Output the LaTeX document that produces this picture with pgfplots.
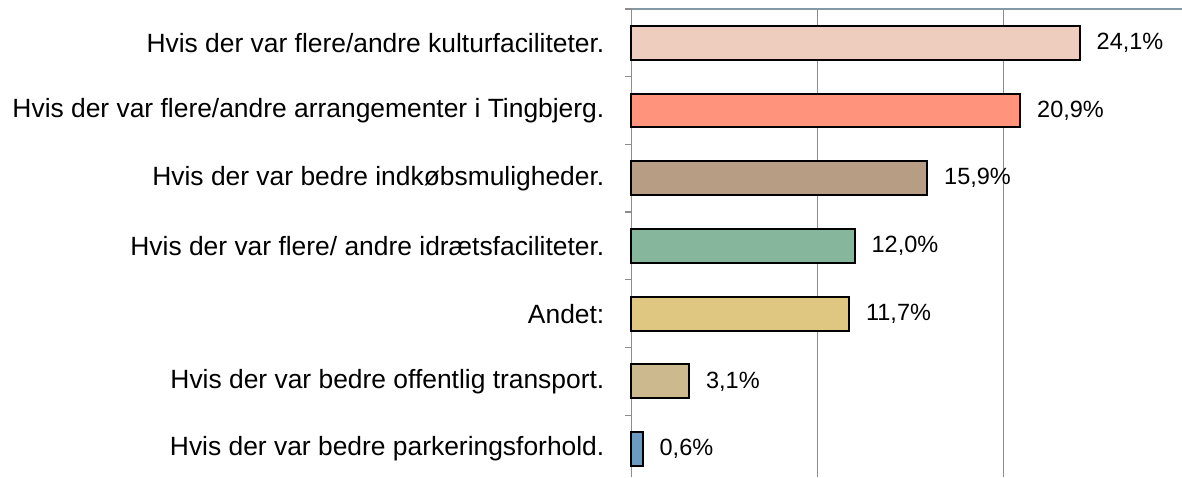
\documentclass[border=0pt]{standalone}
\usepackage{pgfplots}
\pgfplotsset{compat=1.18}
\usepackage{fontspec}
\setmainfont{Liberation Sans}
\definecolor{c1}{HTML}{EECDBF}
\definecolor{c2}{HTML}{FF937B}
\definecolor{c3}{HTML}{B89D85}
\definecolor{c4}{HTML}{86B69B}
\definecolor{c5}{HTML}{DFC781}
\definecolor{c6}{HTML}{CCB98D}
\definecolor{c7}{HTML}{6C9BC2}
\definecolor{gridc}{HTML}{8C8C8C}
\definecolor{topc}{HTML}{8598A6}
\begin{document}
\begin{tikzpicture}
\path[use as bounding box] (-631.5pt,0pt) rectangle (550.5pt,477pt);
\begin{axis}[
  at={(0pt,0pt)}, anchor=south west,
  scale only axis, width=550.5pt, height=468pt,
  xmin=0, xmax=29.6, ymin=-0.413, ymax=6.5,
  axis x line*=top, axis y line*=left,
  x axis line style={topc, line width=1.5pt, -},
  y axis line style={gridc, line width=1.5pt, -},
  xtick={10,20}, xticklabels={,}, xmajorgrids,
  major x grid style={gridc, line width=1.2pt},
  major x tick style={draw=none},
  ytick={0,1,2,3,4,5,6},
  yticklabels={Hvis der var bedre parkeringsforhold.,
    Hvis der var bedre offentlig transport.,
    Andet:,
    Hvis der var flere/ andre idrætsfaciliteter.,
    Hvis der var bedre indkøbsmuligheder.,
    Hvis der var flere/andre arrangementer i Tingbjerg.,
    Hvis der var flere/andre kulturfaciliteter.},
  major y tick style={draw=none},
  minor ytick={-0.5,0.5,1.5,2.5,3.5,4.5,5.5,6.5},
  minor y tick style={gridc, line width=1.2pt},
  minor tick length=6pt, tick align=outside,
  yticklabel style={font=\fontsize{26.4}{31}\selectfont, inner sep=0pt, xshift=-22.7pt, anchor=east},
  xbar, bar width=0.5, bar shift=0pt,
  every axis plot/.append style={draw=black, line width=2pt},
  nodes near coords={\pgfmathprintnumber[fixed,fixed zerofill,precision=1,use comma,assume math mode=true]{\pgfplotspointmeta}\%},
  every node near coord/.append style={font=\fontsize{23.5}{28}\selectfont, inner sep=0pt, anchor=west, xshift=16pt, black},
  clip=false,
]
\addplot[fill=c7] coordinates {(0.6,0)};
\addplot[fill=c6] coordinates {(3.1,1)};
\addplot[fill=c5] coordinates {(11.7,2)};
\addplot[fill=c4] coordinates {(12.0,3)};
\addplot[fill=c3] coordinates {(15.9,4)};
\addplot[fill=c2] coordinates {(20.9,5)};
\addplot[fill=c1] coordinates {(24.1,6)};
\end{axis}
\end{tikzpicture}
\end{document}
